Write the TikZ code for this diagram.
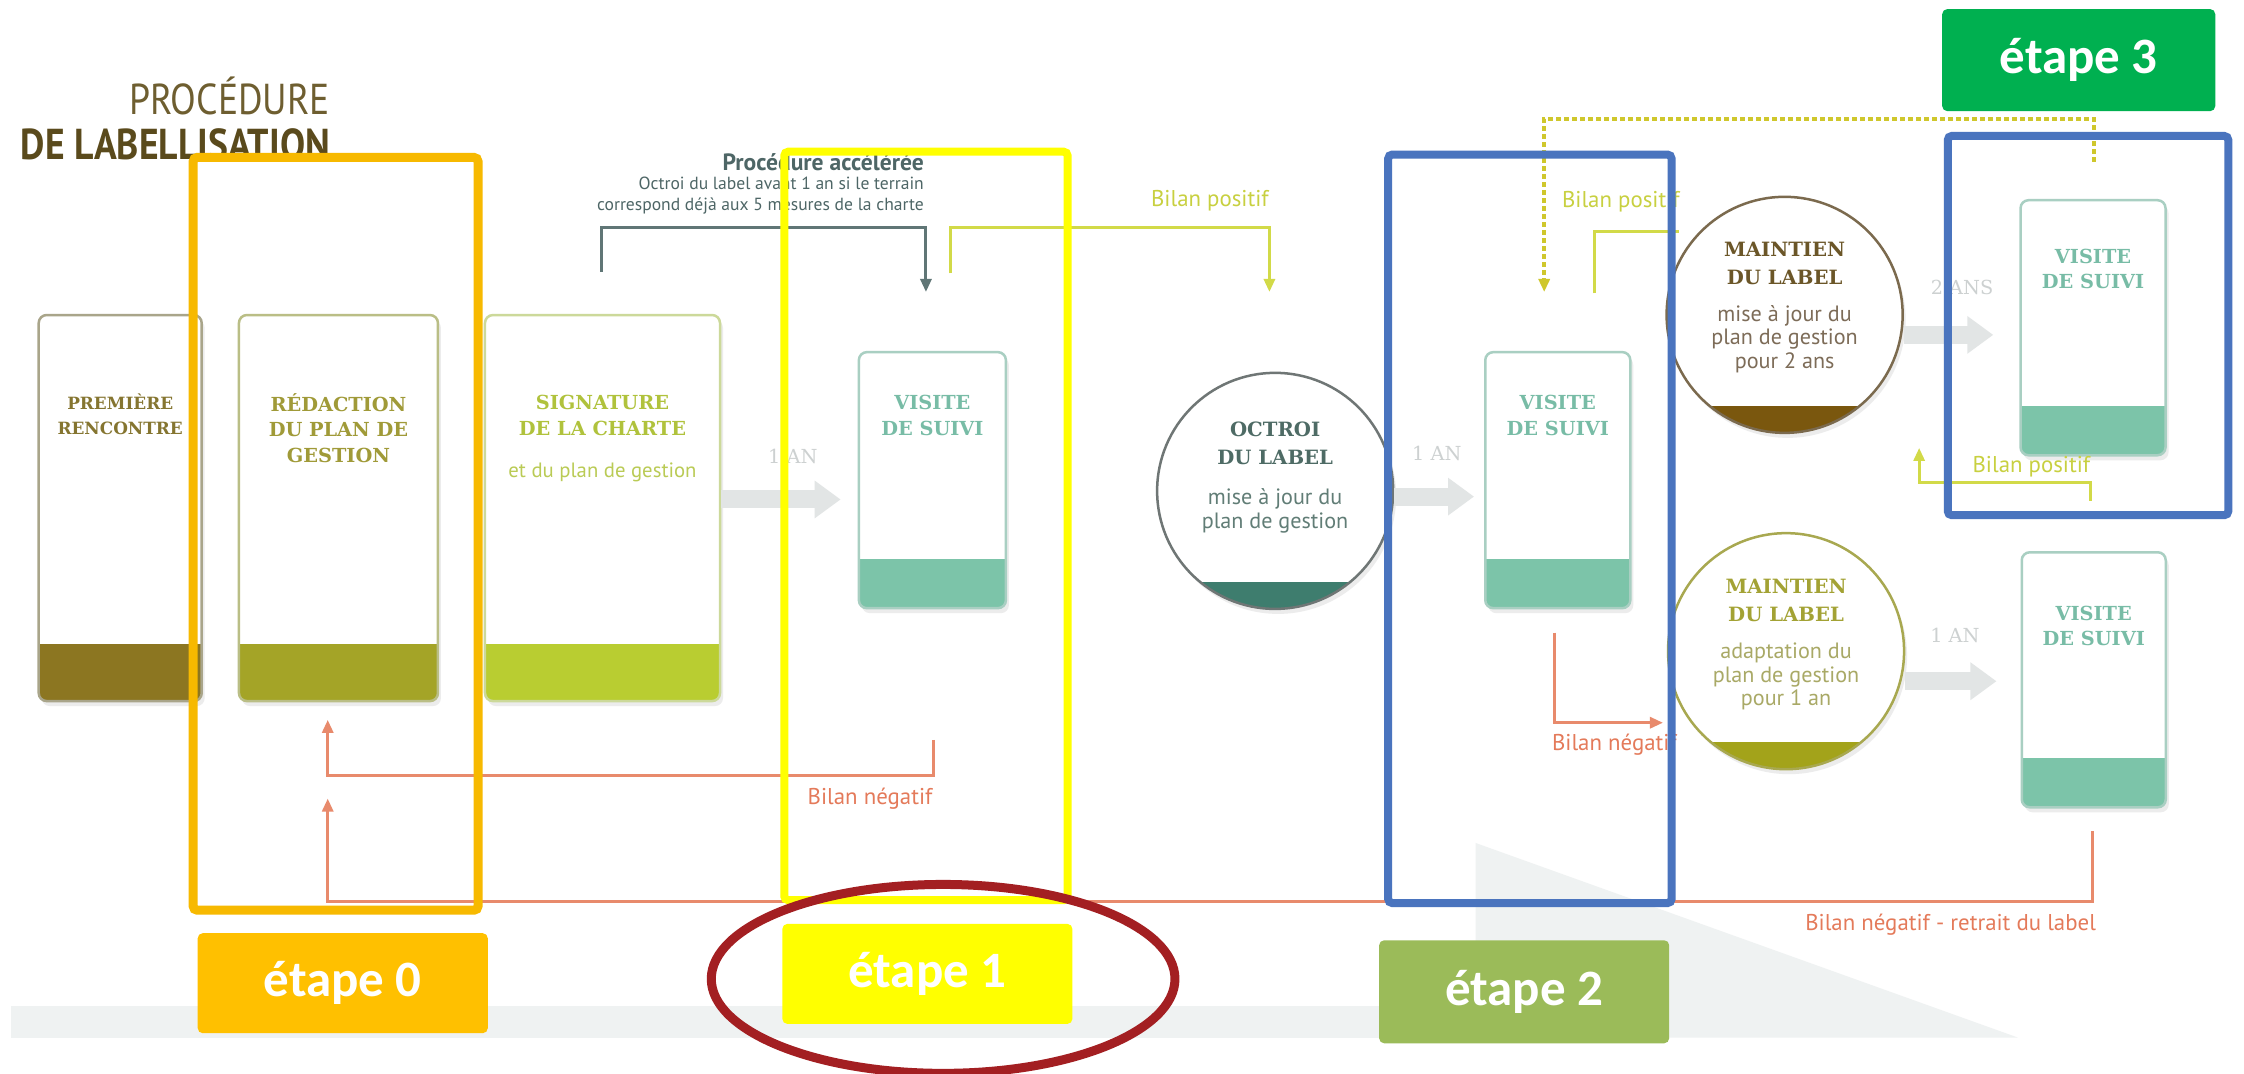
\documentclass[tikz,border=0pt]{standalone}
\usepackage{fontspec}
\setmainfont{PT Sans}
\newfontfamily\slabfont{DejaVu Serif}
\newfontfamily\titlefont[FakeStretch=0.87]{PT Sans}
\newfontfamily\stepfont{Carlito}
\usetikzlibrary{positioning,shapes.geometric,arrows.meta,shadows}

\definecolor{frameorange}{HTML}{F7B900}
\definecolor{stepzero}{HTML}{FFC000}
\definecolor{frameyellow}{HTML}{FFFF00}
\definecolor{frameblue}{HTML}{4A74BE}
\definecolor{steptwo}{HTML}{9BBB59}
\definecolor{stepthree}{HTML}{00B050}
\definecolor{ringred}{HTML}{A31F22}
\definecolor{titlelight}{HTML}{6E5E30}
\definecolor{titledark}{HTML}{5A4A1C}
\definecolor{negcol}{HTML}{E88A6C}
\definecolor{negtextcol}{HTML}{E47A5A}
\definecolor{poscol}{HTML}{D2DA48}
\definecolor{postextcol}{HTML}{C8D040}
\definecolor{dotcol}{HTML}{CFC72C}
\definecolor{acccol}{HTML}{607676}
\definecolor{acctextcol}{HTML}{4E6666}
\definecolor{greyarrow}{HTML}{E2E5E5}
\definecolor{greytext}{HTML}{CDD1D1}
\definecolor{bgband}{HTML}{EFF2F2}
% cards
\definecolor{premborder}{HTML}{A9A58A}
\definecolor{premband}{HTML}{8C7621}
\definecolor{premcol}{HTML}{857530}
\definecolor{redborder}{HTML}{BABE86}
\definecolor{redband}{HTML}{A4A427}
\definecolor{redcol}{HTML}{A09A38}
\definecolor{signborder}{HTML}{CCD99A}
\definecolor{signband}{HTML}{B9CD31}
\definecolor{signcol}{HTML}{B0C23C}
\definecolor{signnotecol}{HTML}{BACB55}
\definecolor{visitborder}{HTML}{A9CFC2}
\definecolor{visitband}{HTML}{7CC4A9}
\definecolor{visitcol}{HTML}{78BCA6}
% discs
\definecolor{octborder}{HTML}{6F7675}
\definecolor{octband}{HTML}{3E7D6E}
\definecolor{octcol}{HTML}{4E6B65}
\definecolor{octnotecol}{HTML}{617D76}
\definecolor{mainaborder}{HTML}{7B6A4E}
\definecolor{mainaband}{HTML}{7A570E}
\definecolor{mainacol}{HTML}{6B5628}
\definecolor{mainanotecol}{HTML}{7D6C58}
\definecolor{mainbborder}{HTML}{A8A850}
\definecolor{mainbband}{HTML}{A3A31A}
\definecolor{mainbcol}{HTML}{A3A234}
\definecolor{mainbnotecol}{HTML}{A9A966}

\begin{document}
\begin{tikzpicture}[x=0.1431mm,y=-0.1431mm,
    card/.style n args={3}{draw=#1, line width=0.25mm, fill=white, rounded corners=0.8mm, inner sep=0pt,
        drop shadow={opacity=0.15, shadow xshift=0.3mm, shadow yshift=-0.5mm},
        path picture={\fill[#2, sharp corners] (path picture bounding box.south west) rectangle ([yshift=#3]path picture bounding box.south east);}},
    disc/.style n args={3}{circle, draw=#1, line width=0.25mm, fill=white, minimum size=23.6mm, inner sep=0pt,
        drop shadow={opacity=0.15, shadow xshift=0.3mm, shadow yshift=-0.5mm},
        path picture={\fill[#2] (path picture bounding box.south west) rectangle ([yshift=#3]path picture bounding box.south east);}},
    cardtitle/.style={font=\slabfont\bfseries\fontsize{5.5}{7.2}\selectfont, align=center, inner sep=0pt},
    disctitle/.style={font=\slabfont\bfseries\fontsize{5.6}{7.9}\selectfont, align=center, inner sep=0pt},
    cardnote/.style={font=\fontsize{6.3}{6.8}\selectfont, align=center, inner sep=0pt},
    steplabel/.style={rounded corners=0.5mm, minimum width=29mm, minimum height=10mm, text=white,
        font=\stepfont\bfseries\fontsize{14.5}{16}\selectfont, inner sep=0pt},
    stepframe/.style={draw=#1, line width=0.8mm, rounded corners=0.4mm},
    yeararrow/.style={draw=greyarrow, line width=1.8mm, -{Triangle[length=2.6mm,width=3.6mm]}},
    yeartext/.style={text=greytext, font=\slabfont\fontsize{5.5}{6}\selectfont, inner sep=0pt},
    loopline/.style={line width=0.3mm, -{Triangle[length=1.3mm,width=1.1mm]}},
    postext/.style={text=postextcol, font=\fontsize{6.5}{7}\selectfont, inner sep=0pt},
    negtext/.style={text=negtextcol, font=\fontsize{6.5}{7}\selectfont, inner sep=0pt}]

    \useasboundingbox (0,0) rectangle (1568,750);
    \fill[white] (0,0) rectangle (1568,750);

    % background band and wedge
    \fill[bgband] (8,703) rectangle (1031,725);
    \fill[bgband] (1031,589) -- (1410,725) -- (1031,725) -- cycle;

    % title
    \node[anchor=north east, align=right, inner sep=0pt, font=\titlefont\fontsize{12.3}{13}\selectfont] (title) at (231,53)
        {{\color{titlelight}PROCÉDURE}\\{\bfseries\color{titledark}DE LABELLISATION}};

    % cards
    \node[card={premborder}{premband}{5.7mm}, minimum width=16.3mm, minimum height=38.6mm] (premiere) at (84,355) {};
    \node[card={redborder}{redband}{5.7mm}, minimum width=19.9mm, minimum height=38.6mm] (redaction) at (236.5,355) {};
    \node[card={signborder}{signband}{5.7mm}, minimum width=23.5mm, minimum height=38.6mm] (signature) at (421,355) {};
    \node[card={visitborder}{visitband}{4.9mm}, minimum width=14.7mm, minimum height=25.6mm] (visite1) at (651.5,335.5) {};
    \node[card={visitborder}{visitband}{4.9mm}, minimum width=14.5mm, minimum height=25.6mm] (visite2) at (1088.5,335.5) {};
    \node[card={visitborder}{visitband}{4.9mm}, minimum width=14.5mm, minimum height=25.5mm] (visite3) at (1462.5,229) {};
    \node[card={visitborder}{visitband}{4.9mm}, minimum width=14.4mm, minimum height=25.5mm] (visite4) at (1463,475) {};

    \node[cardtitle, text=premcol, below=7.9mm of premiere.north, font=\slabfont\bfseries\fontsize{4.8}{7.2}\selectfont] (premieretxt) {PREMIÈRE\\RENCONTRE};
    \node[cardtitle, text=redcol, below=7.9mm of redaction.north] (redactiontxt) {RÉDACTION\\DU PLAN DE\\GESTION};
    \node[cardtitle, text=signcol, below=8.1mm of signature.north] (signaturetxt) {SIGNATURE\\DE LA CHARTE};
    \node[cardnote, text=signnotecol, below=2.6mm of signaturetxt, font=\fontsize{5.9}{6.5}\selectfont] (signaturenote) {et du plan de gestion};
    \node[cardtitle, text=visitcol, below=4.4mm of visite1.north] (visite1txt) {VISITE\\DE SUIVI};
    \node[cardtitle, text=visitcol, below=4.4mm of visite2.north] (visite2txt) {VISITE\\DE SUIVI};
    \node[cardtitle, text=visitcol, below=4.9mm of visite3.north] (visite3txt) {VISITE\\DE SUIVI};
    \node[cardtitle, text=visitcol, below=5.4mm of visite4.north] (visite4txt) {VISITE\\DE SUIVI};

    % discs
    \node[disc={octborder}{octband}{2.7mm}] (octroi) at (891,343) {};
    \node[disc={mainaborder}{mainaband}{2.7mm}] (maintien1) at (1247,220) {};
    \node[disc={mainbborder}{mainbband}{2.7mm}] (maintien2) at (1248,455) {};

    \node[disctitle, text=octcol, below=5mm of octroi.north] (octroitxt) {OCTROI\\DU LABEL};
    \node[cardnote, text=octnotecol, below=2.2mm of octroitxt] (octroinote) {mise à jour du\\plan de gestion};
    \node[disctitle, text=mainacol, below=4.6mm of maintien1.north] (maintien1txt) {MAINTIEN\\DU LABEL};
    \node[cardnote, text=mainanotecol, below=1.9mm of maintien1txt] (maintien1note) {mise à jour du\\plan de gestion\\pour 2 ans};
    \node[disctitle, text=mainbcol, below=4.7mm of maintien2.north] (maintien2txt) {MAINTIEN\\DU LABEL};
    \node[cardnote, text=mainbnotecol, below=1.9mm of maintien2txt] (maintien2note) {adaptation du\\plan de gestion\\pour 1 an};

    % yearly arrows
    \draw[yeararrow, shorten >=1.7mm] (signature.east |- 0,349) -- (visite1.west |- 0,349);
    \draw[yeararrow, shorten >=1mm] (octroi.east |- 0,347) -- (visite2.west |- 0,347);
    \draw[yeararrow, shorten >=2.6mm] (maintien1.east |- 0,234) -- (visite3.west |- 0,234);
    \draw[yeararrow, shorten >=2.4mm] (maintien2.east |- 0,476) -- (visite4.west |- 0,476);
    \node[yeartext] (year1) at (554,319) {1 AN};
    \node[yeartext] (year2) at (1004,317) {1 AN};
    \node[yeartext] (year3) at (1371,201) {2 ANS};
    \node[yeartext] (year4) at (1366,444) {1 AN};

    % fast track
    \coordinate (accstart) at (420,190);
    \coordinate (accend) at (647,204);
    \draw[loopline, acccol] (accstart) -- ++(0,-31) -| (accend);
    \node[anchor=east, inner sep=0pt, text=acctextcol, font=\bfseries\fontsize{6.7}{7}\selectfont] (acctitle) at (646,113) {Procédure accélérée};
    \node[below=0.5mm of acctitle.south east, anchor=north east, align=right, inner sep=0pt, text=acctextcol,
        font=\fontsize{5}{5.9}\selectfont] (accnote) {Octroi du label avant 1 an si le terrain\\correspond déjà aux 5 mesures de la charte};

    % positive results
    \coordinate (pos1start) at (664,191);
    \coordinate (pos1end) at (887,204);
    \draw[loopline, poscol] (pos1start) -- ++(0,-32) -| (pos1end);
    \node[postext, anchor=east] (pos1lbl) at (887,140) {Bilan positif};

    \coordinate (pos2start) at (1114,205);
    \coordinate (pos2end) at (1173,162);
    \draw[line width=0.3mm, poscol] (pos2start) |- (pos2end);
    \node[postext, anchor=west] (pos2lbl) at (1091,141) {Bilan positif};

    \coordinate (dotstart) at (1463,113);
    \coordinate (dotend) at (1079,204);
    \draw[loopline, dotcol, line width=0.45mm, dash pattern=on 0.45mm off 0.35mm] (dotstart) -- ++(0,-30) -| (dotend);

    \coordinate (pos3start) at (1461,350);
    \coordinate (pos3end) at (1341,313);
    \draw[loopline, poscol] (pos3start) -- ++(0,-13) -| (pos3end);
    \node[postext, anchor=east] (pos3lbl) at (1461,326) {Bilan positif};

    % negative results
    \coordinate (neg1start) at (652,517);
    \coordinate (neg1end) at (229,503);
    \draw[loopline, negcol] (neg1start) -- ++(0,25) -| (neg1end);
    \node[negtext, anchor=east] (neg1lbl) at (652,558) {Bilan négatif};

    \coordinate (neg2start) at (1086,442);
    \coordinate (neg2end) at (1162,505);
    \draw[loopline, negcol] (neg2start) |- (neg2end);
    \node[negtext, anchor=west] (neg2lbl) at (1084,520) {Bilan négatif};

    \coordinate (neg3start) at (1462,581);
    \coordinate (neg3end) at (229,558);
    \draw[loopline, negcol] (neg3start) -- ++(0,49) -| (neg3end);
    \node[negtext, anchor=east] (neg3lbl) at (1465,646) {Bilan négatif - retrait du label};

    % step frames
    \draw[stepframe=frameorange, line width=0.9mm] (135,110) rectangle (334,636);
    \draw[stepframe=frameyellow] (548,106) rectangle (746,629);
    \draw[stepframe=frameblue] (970,108) rectangle (1168,631);
    \draw[stepframe=frameblue] (1361,95) rectangle (1557,360);

    % step labels
    \node[steplabel, fill=stepzero] (etape0) at (239.5,687) {étape 0};
    \node[steplabel, fill=frameyellow] (etape1) at (648,680.5) {étape 1};
    \node[steplabel, fill=steptwo, minimum height=10.3mm] (etape2) at (1065,693) {étape 2};
    \node[steplabel, fill=stepthree, minimum width=27.3mm, minimum height=10.2mm] (etape3) at (1452.5,42) {étape 3};

    % highlight ring
    \draw[ringred, line width=0.9mm] (659,684) ellipse [x radius=162, y radius=66];
\end{tikzpicture}
\end{document}
